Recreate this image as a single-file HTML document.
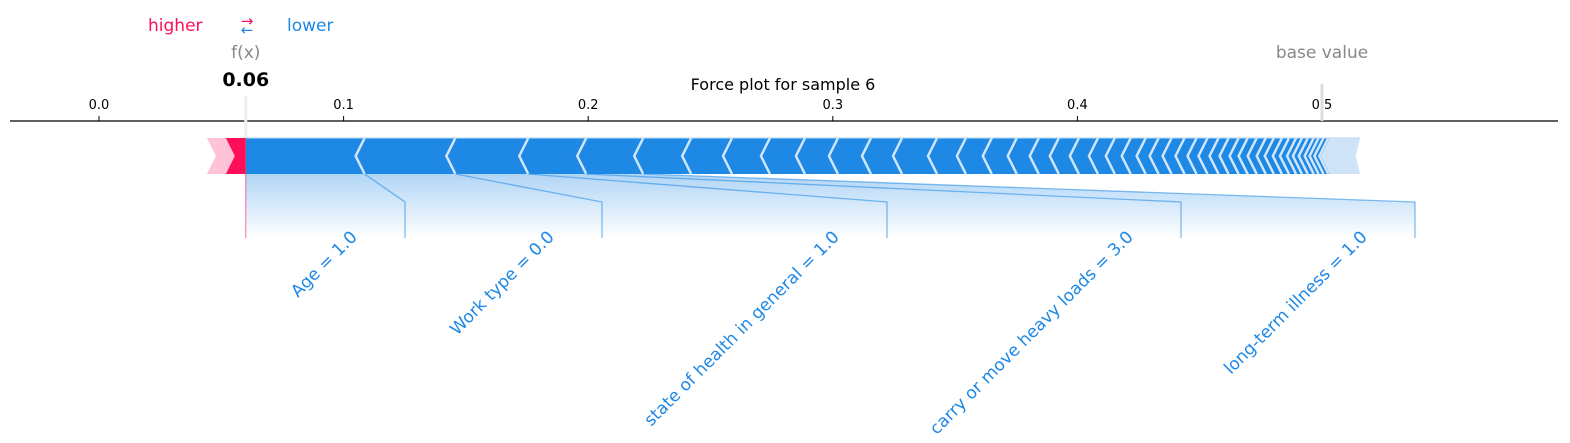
<!DOCTYPE html>
<html><head><meta charset="utf-8"><style>
body{margin:0;background:#fff;}
svg{display:block;font-family:"DejaVu Sans","Liberation Sans",sans-serif;}
</style></head><body>
<svg id="chart" width="1570" height="443" viewBox="0 0 1570 443" xmlns="http://www.w3.org/2000/svg">
<defs>
<linearGradient id="fade" x1="0" y1="0" x2="0" y2="1">
<stop offset="0" stop-color="#1E88E5" stop-opacity="0.35"/>
<stop offset="1" stop-color="#1E88E5" stop-opacity="0"/>
</linearGradient>
</defs>
<text x="148" y="31" font-size="17" fill="#FF0D57">higher</text>
<text x="247" y="26" font-size="15" fill="#FF0D57" text-anchor="middle">→</text>
<text x="247" y="35" font-size="15" fill="#1E88E5" text-anchor="middle">←</text>
<text x="287" y="31" font-size="17" fill="#1E88E5">lower</text>
<text x="783" y="90" font-size="16" text-anchor="middle" fill="#000">Force plot for sample 6</text>
<g id="axis"></g>
<g id="marks"></g>
<g id="labels"></g>
</svg>
<script>
const baseValue = 0.5;
const fx = 0.06;
const tickValues = [0.0, 0.1, 0.2, 0.3, 0.4, 0.5];
const tickLabels = ["0.0", "0.1", "0.2", "0.3", "0.4", "0.5"];
const positiveValues = [0.0086, 0.0073];
const negativeValues = [0.0486,0.0371,0.0298,0.0237,0.0233,0.0196,0.0167,0.0155,0.0143,0.0135,0.0135,0.0127,0.0143,0.0118,0.0106,0.0102,0.0090,0.0082,0.0082,0.0078,0.0069,0.0065,0.0061,0.0053,0.0053,0.0053,0.0049,0.0045,0.0045,0.0041,0.0041,0.0037,0.0037,0.0037,0.0033,0.0033,0.0029,0.0029,0.0024,0.0024,0.0024,0.0020,0.0020,0.0020,0.0012];
const negativeTail = 0.0118;
const featureLabels = ["Age = 1.0","Work type = 0.0","state of health in general = 1.0","carry or move heavy loads = 3.0","long-term illness = 1.0"];
const labelSlots = [405,602,887,1181,1415];

const NS="http://www.w3.org/2000/svg";
const X = v => 99 + v*2446;
const barTop=138, barBot=174, barMid=156, notch=9;
function mk(tag, attrs, parent){const e=document.createElementNS(NS,tag);for(const k in attrs)e.setAttribute(k,attrs[k]);parent.appendChild(e);return e;}
const axis=document.getElementById('axis'), marks=document.getElementById('marks'), labels=document.getElementById('labels');

let al=mk('line',{x1:10,x2:1558,y1:121,y2:121,stroke:'#000','stroke-width':1.2},axis);


tickValues.forEach((v,i)=>{
  let t=mk('line',{x1:X(v),x2:X(v),y1:116,y2:121,stroke:'#000'},axis);
  
  
  let tl=mk('text',{x:X(v),y:109,'font-size':13,'text-anchor':'middle',fill:'#000'},axis);
  tl.textContent=tickLabels[i];
  
  
});
let bl=mk('line',{x1:X(baseValue),x2:X(baseValue),y1:84,y2:121,stroke:'#ddd','stroke-width':3},axis);


let bt=mk('text',{x:X(baseValue),y:58,'font-size':17,'text-anchor':'middle',fill:'#888'},axis);
bt.textContent='base value';


let fl=mk('line',{x1:X(fx),x2:X(fx),y1:96,y2:140,stroke:'#eee','stroke-width':3},axis);


let ft=mk('text',{x:X(fx),y:58,'font-size':17,'text-anchor':'middle',fill:'#888'},axis);
ft.textContent='f(x)';


let fv=mk('text',{x:X(fx),y:86,'font-size':19,'font-weight':'bold','text-anchor':'middle',fill:'#000'},axis);
fv.textContent=fx.toFixed(2);



let bounds=[X(fx)]; let acc=fx;
negativeValues.forEach(v=>{acc+=v;bounds.push(X(acc));});
const tailEnd=X(acc+negativeTail);
const nLab=featureLabels.length;
let shade=mk('polygon',{points:`${X(fx)},${barBot} ${bounds[nLab]},${barBot} ${labelSlots[nLab-1]},202 ${labelSlots[nLab-1]},238 ${X(fx)},238`,fill:'url(#fade)'},marks);


const lastB=bounds[bounds.length-1];
let tail=mk('polygon',{points:`${lastB},${barTop} ${tailEnd},${barTop} ${tailEnd-notch/2},${barMid} ${tailEnd},${barBot} ${lastB},${barBot} ${lastB-notch},${barMid}`,fill:'#CFE3F8'},marks);


for(let i=0;i<negativeValues.length;i++){
  const a=bounds[i], b=bounds[i+1];
  const la = i===0 ? `${a},${barBot} ${a},${barTop}` : `${a},${barBot} ${a-notch},${barMid} ${a},${barTop}`;
  let p=mk('polygon',{points:`${la} ${b},${barTop} ${b-notch},${barMid} ${b},${barBot}`,fill:'#1E88E5'},marks);
  
  
}
for(let i=1;i<bounds.length;i++){
  const b=bounds[i];
  let s=mk('polyline',{points:`${b},${barTop} ${b-notch},${barMid} ${b},${barBot}`,fill:'none',stroke:'#D1E6FA','stroke-width':2.5},marks);
  
  
}
let edge=mk('line',{x1:X(fx),x2:tailEnd,y1:barTop,y2:barTop,stroke:'#BBD7F3','stroke-width':1},marks);



let pb=[X(fx)]; let pacc=fx;
positiveValues.forEach(v=>{pacc-=v;pb.push(X(pacc));});
const pColors=['#FF0D57','#FFC3D5'];
positiveValues.forEach((v,i)=>{
  const a=pb[i+1], b=pb[i];
  const rp = i===0 ? `${b},${barTop} ${b},${barBot}` : `${b},${barTop} ${b+notch},${barMid} ${b},${barBot}`;
  let p=mk('polygon',{points:`${a},${barTop} ${rp} ${a},${barBot} ${a+notch},${barMid}`,fill:pColors[i]},marks);
  
  
});
let ps=mk('polyline',{points:`${pb[1]},${barTop} ${pb[1]+notch},${barMid} ${pb[1]},${barBot}`,fill:'none',stroke:'#FFC3D5','stroke-width':2},marks);


let pl=mk('line',{x1:X(fx),x2:X(fx),y1:barBot,y2:238,stroke:'#FF0D57','stroke-width':1,opacity:0.6},marks);



featureLabels.forEach((lab,i)=>{
  const bx=bounds[i+1], lx=labelSlots[i];
  let c=mk('polyline',{points:`${bx},${barBot} ${lx},202 ${lx},238`,fill:'none',stroke:'#1E88E5','stroke-opacity':0.55,'stroke-width':1.3},labels);
  
  
  const tx=lx-47, ty=238;
  let t=mk('text',{x:tx,y:ty,'font-size':17,fill:'#1E88E5','text-anchor':'end',transform:`rotate(-45 ${tx} ${ty})`},labels);
  t.textContent=lab;
  
  
});
</script>
</body></html>
